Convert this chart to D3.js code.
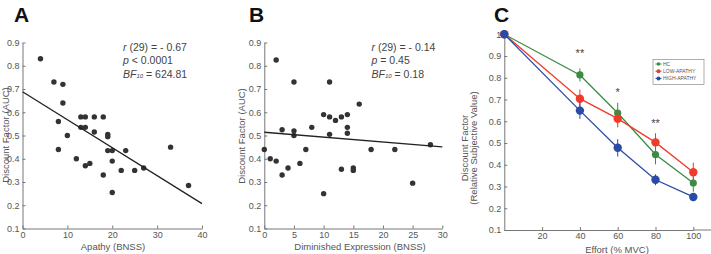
<!DOCTYPE html>
<html>
<head>
<meta charset="utf-8">
<script src="https://cdn.jsdelivr.net/npm/d3@7"></script>
<style>
  body { margin: 0; background: #fff; }
  svg { display: block; font-family: "Liberation Sans", Arial, sans-serif; }
  .tick text { fill: #555; font-size: 9px; }
  .domain, .tick line { stroke: #777; }
</style>
</head>
<body>
<script>

// panel A: apathy vs discount factor
var apathyX = [4, 7, 9, 9, 8, 8, 10, 13, 14, 16, 18, 13, 14, 16, 19, 19, 12, 14, 15, 18, 19, 20, 20, 20, 23, 22, 25, 27, 33, 37];
var apathyY = [0.83, 0.73, 0.72, 0.64, 0.56, 0.44, 0.50, 0.58, 0.58, 0.58, 0.58, 0.535, 0.535, 0.515, 0.505, 0.495, 0.40, 0.37, 0.38, 0.33, 0.435, 0.435, 0.39, 0.255, 0.435, 0.35, 0.35, 0.36, 0.45, 0.285];
var fitA = [[0, 0.688], [40, 0.207]];

// panel B: diminished expression vs discount factor
var dimX = [0, 1, 2, 2, 3, 3, 4, 5, 5, 5, 6, 7, 8, 10, 10, 11, 11, 11, 12, 13, 13, 14, 14, 14, 15, 15, 16, 18, 22, 25, 28];
var dimY = [0.44, 0.40, 0.825, 0.39, 0.525, 0.33, 0.36, 0.73, 0.52, 0.50, 0.38, 0.44, 0.535, 0.25, 0.59, 0.73, 0.58, 0.505, 0.565, 0.58, 0.355, 0.59, 0.535, 0.51, 0.36, 0.35, 0.635, 0.44, 0.44, 0.295, 0.46];
var fitB = [[0, 0.514], [30, 0.451]];

// panel C: discounting curves
var effort = [0, 40, 60, 80, 100];
var groups = ["HC", "LOW-APATHY", "HIGH-APATHY"];
var hcMean = [1, 0.813, 0.638, 0.447, 0.316];
var hcErr = [0, 0.03, 0.047, 0.045, 0.04];
var lowMean = [1, 0.704, 0.612, 0.503, 0.366];
var lowErr = [0, 0.042, 0.04, 0.042, 0.044];
var highMean = [1, 0.649, 0.478, 0.331, 0.252];
var highErr = [0, 0.038, 0.04, 0.025, 0.017];
var stars = [[40, "**"], [60, "*"], [80, "**"]];

var yTicksAB = [0.1, 0.2, 0.3, 0.4, 0.5, 0.6, 0.7, 0.8, 0.9];
var yTicksC = [0.1, 0.2, 0.3, 0.4, 0.5, 0.6, 0.7, 0.8, 0.9, 1];
var xTicksA = [0, 10, 20, 30, 40];
var xTicksB = [0, 5, 10, 15, 20, 25, 30];
var xTicksC = [20, 40, 60, 80, 100];

var colors = ["#3b8b40", "#f03a2a", "#2a4aa8"];

var svg = d3.select("body").append("svg")
    .attr("width", 711)
    .attr("height", 254);

var fmt = d3.format(".1f");

function drawAxes(x, y, xt, yt, yfmt) {
  svg.append("g")
    .attr("transform", "translate(0," + y.range()[0] + ")")
    .call(d3.axisBottom(x).tickValues(xt).tickSizeInner(-3).tickSizeOuter(0).tickPadding(3));
  svg.append("g")
    .attr("transform", "translate(" + x.range()[0] + ",0)")
    .call(d3.axisLeft(y).tickValues(yt).tickSizeInner(-3).tickSizeOuter(0).tickPadding(3).tickFormat(yfmt));
}

function panelLetter(t, px) {
  svg.append("text")
    .attr("x", px).attr("y", 22)
    .attr("font-size", 21).attr("font-weight", "bold")
    .attr("fill", "#111")
    .text(t);
}

function stats(px, r, pTxt, bf) {
  var t = svg.append("g").attr("fill", "#444").attr("font-size", 10.5);
  var l1 = t.append("text").attr("x", px).attr("y", 50.5);
  l1.append("tspan").attr("font-style", "italic").text("r");
  l1.append("tspan").text(" (29) = - " + r);
  var l2 = t.append("text").attr("x", px).attr("y", 64);
  l2.append("tspan").attr("font-style", "italic").text("p");
  l2.append("tspan").text(pTxt);
  var l3 = t.append("text").attr("x", px).attr("y", 77.5);
  l3.append("tspan").attr("font-style", "italic").text("BF");
  l3.append("tspan").attr("font-size", 6).attr("font-style", "italic").text("10");
  l3.append("tspan").text(" = " + bf);
}

function scatter(x, y, xs, ys, fit) {
  svg.append("g").selectAll("circle")
    .data(xs)
    .join("circle")
    .attr("cx", function(d) { return x(d); })
    .attr("cy", function(d, i) { return y(ys[i]); })
    .attr("r", 2.7)
    .attr("fill", "#333");
  svg.append("path")
    .attr("d", d3.line().x(function(d) { return x(d[0]); }).y(function(d) { return y(d[1]); })(fit))
    .attr("stroke", "#222").attr("stroke-width", 1.3).attr("fill", "none");
}

function yLabel(lines, px, cy) {
  lines.forEach(function(s, i) {
    svg.append("text")
      .attr("transform", "translate(" + (px + i * 9) + "," + cy + ") rotate(-90)")
      .attr("text-anchor", "middle")
      .attr("font-size", 9.5).attr("fill", "#555")
      .text(s);
  });
}

function xLabel(s, cx, by) {
  svg.append("text")
    .attr("x", cx).attr("y", by)
    .attr("text-anchor", "middle")
    .attr("font-size", 9.5).attr("fill", "#555")
    .text(s);
}

// ---- A
var xA = d3.scaleLinear().domain([0, 40]).range([22.5, 202]);
var yA = d3.scaleLinear().domain([0.1, 0.9]).range([228.5, 42.5]);
drawAxes(xA, yA, xTicksA, yTicksAB, fmt);
scatter(xA, yA, apathyX, apathyY, fitA);
panelLetter("A", 14);
stats(123, "0.67", " < 0.0001", "624.81");
yLabel(["Discount Factor (AUC)"], 8.5, 135);
xLabel("Apathy (BNSS)", 113, 249.5);

// ---- B
var xB = d3.scaleLinear().domain([0, 30]).range([264.3, 442.3]);
var yB = d3.scaleLinear().domain([0.1, 0.9]).range([228.5, 42.5]);
drawAxes(xB, yB, xTicksB, yTicksAB, fmt);
scatter(xB, yB, dimX, dimY, fitB);
panelLetter("B", 249);
stats(371.5, "0.14", " = 0.45", "0.18");
yLabel(["Discount Factor (AUC)"], 245, 136);
xLabel("Diminished Expression (BNSS)", 360, 249.5);

// ---- C
var xC = d3.scaleLinear().domain([0, 100]).range([504.3, 693.3]);
var yC = d3.scaleLinear().domain([0.1, 1]).range([230, 34.3]);
drawAxes(xC, yC, xTicksC, yTicksC, function(d) { return d === 1 ? "1" : fmt(d); });
// x axis runs on to the edge of the picture
svg.append("line")
  .attr("x1", xC(100)).attr("x2", 711)
  .attr("y1", yC(0.1)).attr("y2", yC(0.1))
  .attr("stroke", "#777");
panelLetter("C", 494);
yLabel(["Discount Factor", "(Relative Subjective Value)"], 468, 148);
xLabel("Effort (% MVC)", 617, 252.5);

var means = [hcMean, lowMean, highMean];
var errs = [hcErr, lowErr, highErr];
var radii = [3.6, 4.2, 4.2];

var line = d3.line()
  .x(function(d, i) { return xC(effort[i]); })
  .y(function(d) { return yC(d); });

means.forEach(function(m, g) {
  var gg = svg.append("g");
  gg.append("path")
    .attr("d", line(m))
    .attr("stroke", colors[g]).attr("stroke-width", 1.3).attr("fill", "none");
  gg.selectAll("line.err")
    .data(m)
    .join("line")
    .attr("class", "err")
    .attr("x1", function(d, i) { return xC(effort[i]); })
    .attr("x2", function(d, i) { return xC(effort[i]); })
    .attr("y1", function(d, i) { return yC(d + errs[g][i]); })
    .attr("y2", function(d, i) { return yC(d - errs[g][i]); })
    .attr("stroke", colors[g]).attr("stroke-width", 1);
  gg.selectAll("circle")
    .data(m)
    .join("circle")
    .attr("cx", function(d, i) { return xC(effort[i]); })
    .attr("cy", function(d) { return yC(d); })
    .attr("r", radii[g])
    .attr("fill", colors[g]);
});

svg.append("g").selectAll("text")
  .data(stars)
  .join("text")
  .attr("x", function(d) { return xC(d[0]); })
  .attr("y", function(d, i) { return [57, 96, 127][i]; })
  .attr("text-anchor", "middle")
  .attr("font-size", 11).attr("fill", "#444")
  .text(function(d) { return d[1]; });

// legend
var lg = svg.append("g").attr("transform", "translate(653,59.5)");
lg.append("rect").attr("width", 51).attr("height", 25)
  .attr("fill", "#fff").attr("stroke", "#777").attr("stroke-width", 0.6);
groups.forEach(function(s, i) {
  var yy = 4.5 + i * 7.2;
  lg.append("line").attr("x1", 2.5).attr("x2", 8.5).attr("y1", yy).attr("y2", yy)
    .attr("stroke", colors[i]).attr("stroke-width", 1);
  lg.append("circle").attr("cx", 5.5).attr("cy", yy).attr("r", i === 0 ? 1.7 : 2)
    .attr("fill", colors[i]);
  lg.append("text").attr("x", 10).attr("y", yy + 1.8)
    .attr("font-size", 5).attr("fill", "#555")
    .text(s);
});

</script>
</body>
</html>
